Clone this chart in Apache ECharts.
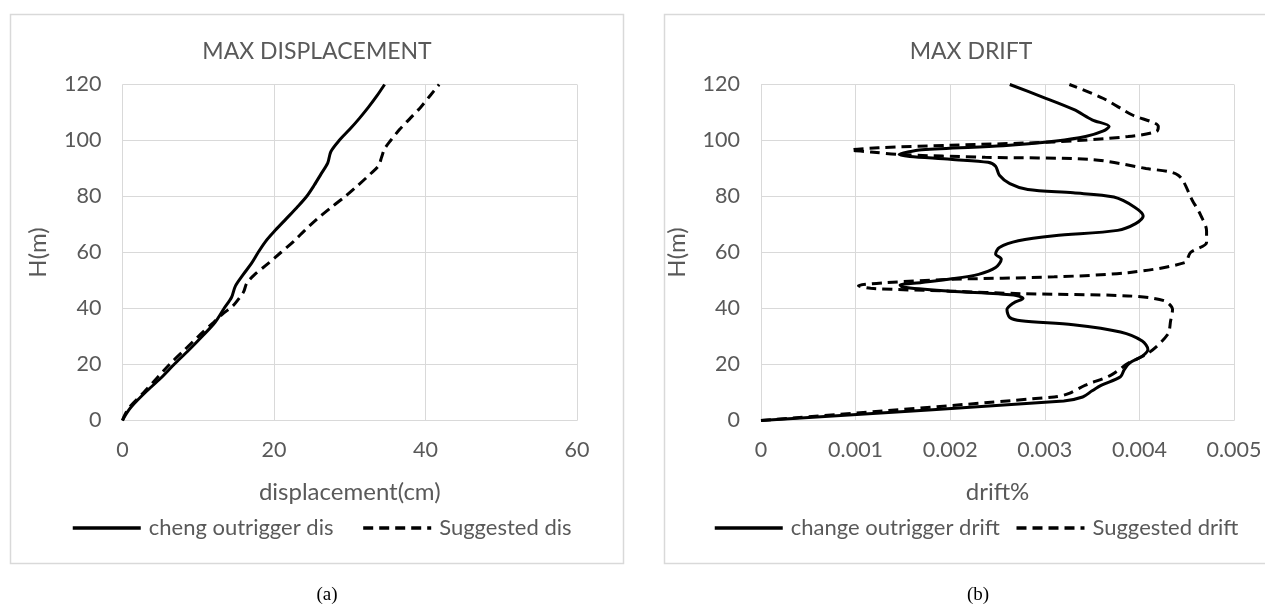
<!DOCTYPE html>
<html>
<head>
<meta charset="utf-8">
<script src="https://cdn.jsdelivr.net/npm/echarts@6/dist/echarts.min.js"></script>
<style>
html,body{margin:0;padding:0;background:#fff;}
#c{width:1265px;height:610px;}
</style>
</head>
<body>
<div id="c"></div>
<script>
// ---- (a) MAX DISPLACEMENT ----
const chengDisH = [0,2,5,10,15,20,25,30,35,40,44,48,52,56,60,64,68,72,76,80,84,88,92,96,100,104,108,112,116,120];
const chengDisX = [0,0.4,1.2,3.0,5.0,6.8,8.7,10.5,12.2,13.4,14.4,14.9,15.9,17.0,17.9,18.9,20.2,21.6,23.0,24.3,25.3,26.2,27.1,27.5,28.6,30.0,31.3,32.5,33.6,34.6];
const sugDisH = [0,2,5,10,15,20,25,30,35,38,41,44,46,49,52,56,60,64,68,72,76,80,84,88,91,94,97,100,104,108,112,116,120];
const sugDisX = [0,0.3,1.0,2.8,4.5,6.2,8.1,10.0,12.0,13.2,14.6,15.5,16.0,16.4,17.4,19.2,20.9,22.6,24.1,25.7,27.5,29.4,31.1,32.7,33.8,34.2,34.6,35.4,36.6,38.0,39.4,40.6,41.8];

// ---- (b) MAX DRIFT ----
const changeDriftX = [0,0.0032,0.0034,0.0035,0.0036,0.0038,0.00384,0.0039,0.00403,0.00409,0.00403,0.0038,0.0033,0.00275,0.00263,0.0026,0.00267,0.00277,0.00267,0.002,0.0015,0.00147,0.0017,0.002,0.0023,0.00248,0.00254,0.00248,0.00252,0.00272,0.0031,0.00377,0.00396,0.00404,0.00395,0.00373,0.0033,0.00282,0.00263,0.00252,0.00248,0.0024,0.002,0.00146,0.0017,0.00256,0.00312,0.00343,0.00362,0.00368,0.0035,0.00331,0.00297,0.00263];
const changeDriftH = [0,7.0,8.4,10.6,12.6,15.6,18.2,20.6,23,25.4,28.4,31.6,34.2,35.6,36.8,39.6,42.0,43.6,44.8,46.2,47.6,48.4,49.3,50.5,52.2,54.6,57.6,59.5,61.8,64.2,66,67.9,70.3,73.0,76.2,79.8,81.3,82.5,84.6,87.6,90.8,92.2,93.3,95.0,96.7,98.1,99.8,101.4,103.4,105,107.4,111,115.6,120];
const sugDriftX = [0,0.0031,0.00325,0.00343,0.0037,0.00388,0.0041,0.0043,0.00433,0.00435,0.00426,0.00388,0.00275,0.002,0.00116,0.00103,0.00131,0.002,0.0031,0.00388,0.00448,0.00454,0.00471,0.00471,0.00465,0.00456,0.00441,0.00407,0.0035,0.00237,0.00146,0.00116,0.00095,0.00124,0.002,0.0031,0.00388,0.00418,0.0042,0.00392,0.00362,0.00326];
const sugDriftH = [0,8.4,9.6,12.6,16.2,20.4,24.2,30.8,35.6,39.6,42.8,44.5,45.3,46.2,47.2,48.1,49.2,50.4,51.3,52.8,56.4,60.0,63.6,67.8,73.2,78.6,87.6,90.0,93.2,94.0,95.0,95.9,96.6,97.4,98.3,99.5,101.4,103.2,105,109.2,115,120];

// tick labels
const disTicks = [0,20,40,60];
const driftTicks = ['0','0.001','0.002','0.003','0.004','0.005'];
const hTicks = [0,20,40,60,80,100,120];

function pairs(xs, hs){ return xs.map((x,i)=>[x, hs[i]]); }

const GREY = '#d9d9d9';
const TXT = '#595959';
const FONT = 'Lato';

function xAx(gi, min, max, interval, name, fmt){
  return {
    type:'value', gridIndex:gi, min:min, max:max, interval:interval,
    axisLine:{show:true, lineStyle:{color:GREY, width:1}},
    axisTick:{show:false},
    splitLine:{show:true, lineStyle:{color:GREY, width:1}},
    axisLabel:{color:TXT, fontSize:21.5, fontFamily:FONT, margin:19, formatter:fmt},
    name:name, nameLocation:'middle', nameGap:60,
    nameTextStyle:{color:TXT, fontSize:24, fontFamily:FONT}
  };
}
function yAx(gi){
  return {
    type:'value', gridIndex:gi, min:0, max:120, interval:20,
    axisLine:{show:false}, axisTick:{show:false},
    splitLine:{show:true, lineStyle:{color:GREY, width:1}},
    axisLabel:{color:TXT, fontSize:21.5, fontFamily:FONT, margin:21,
      formatter:v=>String(hTicks[Math.round(v/20)])},
    name:'H(m)', nameLocation:'middle', nameGap:72,
    nameTextStyle:{color:TXT, fontSize:24, fontFamily:FONT}
  };
}
function line(name, gi, data, dashed){
  return {
    name:name, type:'line', xAxisIndex:gi, yAxisIndex:gi,
    data:data, symbol:'none', smooth:0.3, animation:false,
    lineStyle:{color:'#000', width:3, type: dashed ? [10,6] : 'solid'},
    itemStyle:{color:'#000'}
  };
}

const chart = echarts.init(document.getElementById('c'), null, {renderer:'canvas'});
chart.setOption({
  animation:false,
  backgroundColor:'#fff',
  grid:[
    {left:122.5, top:84.5, width:454.5, height:336},
    {left:761, top:84.5, width:473, height:336}
  ],
  xAxis:[
    xAx(0, 0, 60, 20, 'displacement(cm)', v=>String(disTicks[Math.round(v/20)])),
    xAx(1, 0, 0.005, 0.001, 'drift%', v=>driftTicks[Math.round(v*1000)])
  ],
  yAxis:[ yAx(0), yAx(1) ],
  legend:[
    {data:['cheng outrigger dis','Suggested dis'], left:71, top:517, padding:0, itemWidth:68, itemHeight:14, itemGap:28,
     textStyle:{color:TXT, fontSize:22, fontFamily:FONT, padding:[0,0,0,3]}, itemStyle:{opacity:0}, lineStyle:{width:3.5}},
    {data:['change outrigger drift','Suggested drift'], left:713, top:517, padding:0, itemWidth:68, itemHeight:14, itemGap:15,
     textStyle:{color:TXT, fontSize:22, fontFamily:FONT, padding:[0,0,0,3]}, itemStyle:{opacity:0}, lineStyle:{width:3.5}}
  ],
  series:[
    line('cheng outrigger dis', 0, pairs(chengDisX, chengDisH), false),
    line('Suggested dis', 0, pairs(sugDisX, sugDisH), true),
    line('change outrigger drift', 1, pairs(changeDriftX, changeDriftH), false),
    line('Suggested drift', 1, pairs(sugDriftX, sugDriftH), true)
  ],
  graphic:[
    {type:'rect', silent:true, shape:{x:10.5, y:14.5, width:613, height:549}, style:{fill:'none', stroke:GREY, lineWidth:1.5}},
    {type:'rect', silent:true, shape:{x:664.5, y:14.5, width:620, height:549}, style:{fill:'none', stroke:GREY, lineWidth:1.5}},
    {type:'text', silent:true, x:317, y:52, style:{text:'MAX DISPLACEMENT', fill:TXT, font:'23px Lato', textAlign:'center', textVerticalAlign:'middle'}},
    {type:'text', silent:true, x:971, y:52, style:{text:'MAX DRIFT', fill:TXT, font:'23px Lato', textAlign:'center', textVerticalAlign:'middle'}},
    {type:'text', silent:true, x:327, y:595, style:{text:'(a)', fill:'#000', font:'19px "Liberation Serif"', textAlign:'center', textVerticalAlign:'middle'}},
    {type:'text', silent:true, x:978, y:595, style:{text:'(b)', fill:'#000', font:'19px "Liberation Serif"', textAlign:'center', textVerticalAlign:'middle'}}
  ]
});
</script>
</body>
</html>
